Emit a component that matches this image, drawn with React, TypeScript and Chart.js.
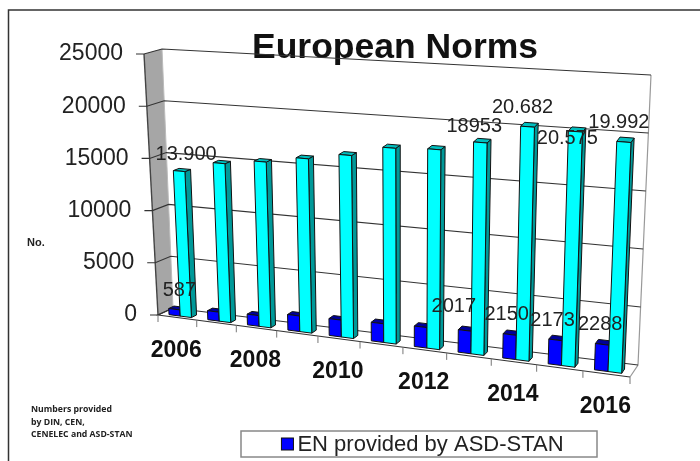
import { useEffect, useRef } from "react";
import { Chart, registerables } from "chart.js";

Chart.register(...registerables);

const categories = ["2006", "2007", "2008", "2009", "2010", "2011", "2012", "2013", "2014", "2015", "2016"];
const asdStanValues = [587, 850, 1000, 1450, 1550, 1700, 1850, 2017, 2150, 2173, 2288];
const totalValues = [13900, 15000, 15500, 16150, 16800, 17800, 18000, 18953, 20682, 20575, 19992];
const asdStanLabels = ["587", "", "", "", "", "", "", "2017", "2150", "2173", "2288"];
const totalLabels = ["13.900", "", "", "", "", "", "", "18953", "20.682", "20.575", "19.992"];
const noteLines = ["Numbers provided", "by DIN, CEN,", "CENELEC and ASD-STAN"];
const legendText = "EN provided by ASD-STAN";
const titleText = "European Norms";
const axisName = "No.";

type P = [number, number];
const BACK = { bl: [173, 308], br: [638, 365], tl: [162, 49], tr: [651, 75] };
const FRONT = { bl: [158, 315], br: [630, 377], tl: [144, 54], tr: [642, 88] };
const BAR_DEPTH: P = [0.2, 0.55];

const lerp = (a: number, b: number, t: number) => a + (b - a) * t;
function planePoint(q: any, u: number, v: number): P {
  const w = u + 0.107 * u * (u - 1);
  const bx = lerp(q.bl[0], q.br[0], w), by = lerp(q.bl[1], q.br[1], w);
  const tx = lerp(q.tl[0], q.tr[0], w), ty = lerp(q.tl[1], q.tr[1], w);
  return [lerp(bx, tx, v), lerp(by, ty, v)];
}
function project(u: number, v: number, d: number): P {
  const f = planePoint(FRONT, u, v), b = planePoint(BACK, u, v);
  return [lerp(f[0], b[0], d), lerp(f[1], b[1], d)];
}
function poly(ctx: CanvasRenderingContext2D, pts: P[], fill: string | null, stroke: string | null, lw = 1) {
  ctx.beginPath();
  pts.forEach((p, i) => (i ? ctx.lineTo(p[0], p[1]) : ctx.moveTo(p[0], p[1])));
  if (fill) { ctx.closePath(); ctx.fillStyle = fill; ctx.fill(); }
  if (stroke) { ctx.strokeStyle = stroke; ctx.lineWidth = lw; ctx.stroke(); }
}

const shades: any = {
  "#0000ff": { top: "#000099", side: "#000080" },
  "#00ffff": { top: "#00bfbf", side: "#009999" },
};
const FONT = '"Liberation Sans", Arial, sans-serif';
const LEGEND_SHIFT = 9;

const scene3d = {
  id: "scene3d",
  afterLayout(chart: any) {
    chart.titleBlock.left -= 24;
    chart.titleBlock.right -= 24;
    chart.legend.top += LEGEND_SHIFT;
    chart.legend.bottom += LEGEND_SHIFT;
  },
  beforeDatasetsDraw(chart: any) {
    const { ctx } = chart;
    const y = chart.scales.y;
    ctx.save();
    // page frame
    ctx.strokeStyle = "#333";
    ctx.lineWidth = 1.5;
    ctx.beginPath(); ctx.moveTo(700, 10); ctx.lineTo(8.5, 10); ctx.lineTo(8.5, 461); ctx.stroke();
    // left wall
    poly(ctx, [project(0, 1, 0), project(0, 1, 1), project(0, 0, 1), project(0, 0, 0)], "#a6a6a6", null);
    // right wall edge, floor outline
    poly(ctx, [project(1, 1, 1), project(1, 0, 1), project(1, 0, 0)], null, "#999", 1.2);
    poly(ctx, [project(0, 1, 0), project(0, 0, 0)], null, "#444", 1.4);
    poly(ctx, [project(0, 1, 1), project(0, 0, 1)], null, "#bbb", 1);
    poly(ctx, [project(0, 0, 1), project(0, 0, 0), project(1, 0, 0)], null, "#333", 1.2);
    // gridlines and value labels
    y.ticks.forEach((t: any) => {
      const v = t.value / y.max;
      const a = project(0, v, 0), b = project(0, v, 1), c = project(1, v, 1);
      poly(ctx, [[a[0] - 8, a[1]], a, b, c], null, "#333", 1.1);
      ctx.fillStyle = "#222";
      ctx.font = `23px ${FONT}`;
      ctx.textAlign = "right";
      ctx.textBaseline = "middle";
      ctx.fillText(String(t.value), a[0] - 21, a[1]);
    });
    // category ticks and year labels
    const n = categories.length;
    for (let i = 0; i <= n; i++) {
      const p = project(i / n, 0, 0);
      poly(ctx, [p, [p[0], p[1] + 7]], null, "#777", 1);
    }
    categories.forEach((c, i) => {
      if (i % 2) return;
      const p = project((i + 0.5) / n, 0, 0);
      ctx.fillStyle = "#111";
      ctx.font = `bold 23px ${FONT}`;
      ctx.textAlign = "center";
      ctx.textBaseline = "middle";
      ctx.fillText(c, p[0] - 1, p[1] + 33);
    });
    // side notes
    ctx.fillStyle = "#222";
    ctx.font = `bold 11px ${FONT}`;
    ctx.textAlign = "left";
    ctx.fillText(axisName, 27, 243);
    ctx.font = 'bold 8.7px "Open Sans", sans-serif';
    noteLines.forEach((l, i) => ctx.fillText(l, 31, 410 + i * 12.5));
    // legend frame
    ctx.strokeStyle = "#888";
    ctx.lineWidth = 1.5;
    ctx.strokeRect(241, chart.legend.bottom - LEGEND_SHIFT - 26, 356, 26);
    ctx.restore();
  },
  beforeDatasetDraw() {
    return false;
  },
  afterDatasetsDraw(chart: any) {
    const { ctx, chartArea: A } = chart;
    const toUV = (x: number, yy: number): P => [(x - A.left) / A.width, 1 - (yy - A.top) / A.height];
    ctx.save();
    ctx.lineJoin = "round";
    const metas = chart.data.datasets.map((_: any, i: number) => chart.getDatasetMeta(i));
    categories.forEach((_, i) => {
      metas.forEach((m: any, di: number) => {
        const el = m.data[i];
        const col = chart.data.datasets[di].backgroundColor;
        const [u0, v] = toUV(el.x - el.width / 2, el.y);
        const [u1] = toUV(el.x + el.width / 2, el.y);
        const [d0, d1] = BAR_DEPTH;
        const f00 = project(u0, 0, d0), f10 = project(u1, 0, d0), f01 = project(u0, v, d0), f11 = project(u1, v, d0);
        const b10 = project(u1, 0, d1), b01 = project(u0, v, d1), b11 = project(u1, v, d1);
        poly(ctx, [f10, b10, b11, f11], shades[col].side, "#111", 1);
        poly(ctx, [f01, f11, b11, b01], shades[col].top, "#111", 1);
        poly(ctx, [f00, f10, f11, f01], col, "#111", 1);
      });
    });
    // value labels
    ctx.fillStyle = "#222";
    ctx.font = `20px ${FONT}`;
    ctx.textAlign = "center";
    ctx.textBaseline = "middle";
    const nudges: any = {
      "13.900": [11, 0], "18953": [-2, 1], "20.682": [-1, -2], "20.575": [-4, 24], "19.992": [-1, -2],
      "587": [9, -2], "2017": [-7, -7], "2150": [1, -3], "2173": [1, -2], "2288": [2, -3],
    };
    metas.forEach((m: any, di: number) => {
      const texts = di === 0 ? asdStanLabels : totalLabels;
      texts.forEach((t, i) => {
        if (!t) return;
        const el = m.data[i];
        const [u, v] = toUV(el.x, el.y);
        const p = project(u, v, BAR_DEPTH[0]);
        const nd = nudges[t] || [0, 0];
        ctx.fillText(t, p[0] - 4 + nd[0], p[1] - 17 + nd[1]);
      });
    });
    ctx.restore();
  },
  afterDraw(chart: any) {
    // legend key sits tight against its text, as in the reference
    const { ctx, legend } = chart;
    const hit = legend.legendHitBoxes[0];
    const top = legend.bottom - LEGEND_SHIFT - 19;
    ctx.save();
    ctx.fillStyle = "#0000ff";
    ctx.strokeStyle = "#111";
    ctx.lineWidth = 1;
    ctx.fillRect(hit.left + 7, top, 12, 12);
    ctx.strokeRect(hit.left + 7, top, 12, 12);
    ctx.restore();
  },
};

export default function App() {
  const ref = useRef<HTMLCanvasElement>(null);
  useEffect(() => {
    const chart = new Chart(ref.current!, {
      type: "bar",
      data: {
        labels: categories,
        datasets: [
          { label: legendText, data: asdStanValues, backgroundColor: "#0000ff" },
          { label: "EN total", data: totalValues, backgroundColor: "#00ffff" },
        ],
      },
      options: {
        animation: false,
        responsive: false,
        devicePixelRatio: 1,
        layout: { padding: { left: 138, right: 0, top: 27, bottom: 4 } },
        datasets: { bar: { categoryPercentage: 0.58, barPercentage: 1 } },
        scales: {
          x: { display: false },
          y: { display: false, min: 0, max: 25000, ticks: { stepSize: 5000 } },
        },
        plugins: {
          title: {
            display: true,
            text: titleText,
            color: "#111",
            font: { family: FONT, size: 35.5, weight: "bold" },
            padding: { top: 0, bottom: 4 },
          },
          legend: {
            position: "bottom",
            labels: {
              filter: (item: any) => item.datasetIndex === 0,
              generateLabels: (c: any) =>
                Chart.defaults.plugins.legend.labels.generateLabels(c).map((l: any) => ({
                  ...l,
                  fillStyle: "transparent",
                  strokeStyle: "transparent",
                })),
              font: { family: FONT, size: 22 },
              color: "#222",
              boxWidth: 12,
              boxHeight: 12,
              padding: 2,
            },
          },
          tooltip: { enabled: false },
        },
      } as any,
      plugins: [scene3d as any],
    });
    return () => chart.destroy();
  }, []);
  return (
    <div style={{ position: "fixed", left: 0, top: 0, width: 700, height: 461, background: "#fff" }}>
      <canvas ref={ref} width={700} height={461} style={{ display: "block", filter: "blur(0.45px)" }} />
    </div>
  );
}
